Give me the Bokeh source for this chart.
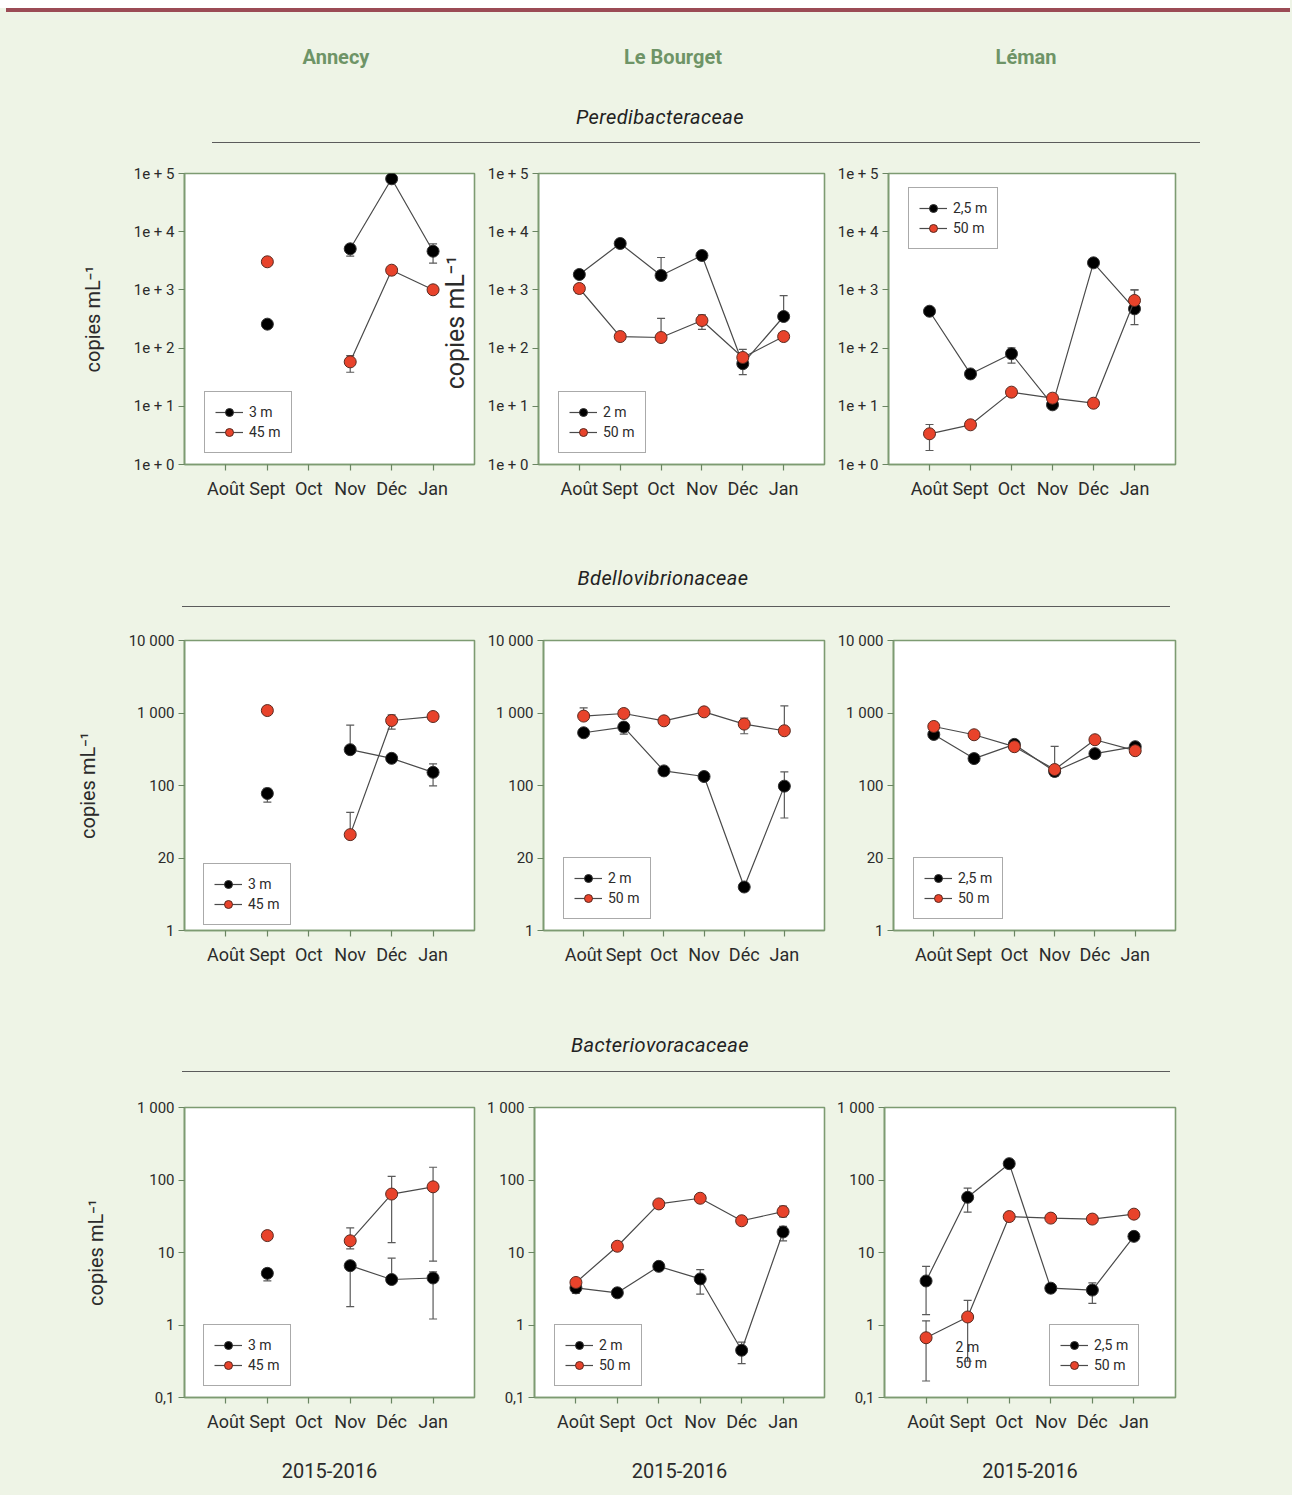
import math
from bokeh.plotting import figure
from bokeh.models import (ColumnDataSource, Whisker, TeeHead, FixedTicker, Legend,
                          LegendItem, Label, Div, Range1d)
from bokeh.layouts import column, row
from bokeh.embed import file_html
from bokeh.resources import INLINE

nan = float("nan")

# ---------------- data ----------------
MONTHS = ["Août", "Sept", "Oct", "Nov", "Déc", "Jan"]
LAKES = ["Annecy", "Le Bourget", "Léman"]
FAMILIES = ["Peredibacteraceae", "Bdellovibrionaceae", "Bacteriovoracaceae"]
DEPTH_SURF = ["3 m", "2 m", "2,5 m"]
DEPTH_DEEP = ["45 m", "50 m", "50 m"]
YEAR_LABEL = "2015-2016"
Y_LABEL = "copies mL⁻¹"

# Peredibacteraceae
pere_annecy_surf = [nan, 258, nan, 5080, 81100, 4620]
pere_annecy_surf_lo = [nan, 225, nan, 3790, nan, 2880]
pere_annecy_surf_hi = [nan, 290, nan, nan, nan, 6200]
pere_annecy_deep = [nan, 3040, nan, 58, 2180, 1004]
pere_annecy_deep_lo = [nan, 2700, nan, 38.5, nan, nan]
pere_annecy_deep_hi = [nan, 3400, nan, 74, nan, nan]

pere_bourget_surf = [1840, 6270, 1770, 3900, 54, 349]
pere_bourget_surf_lo = [nan, nan, nan, nan, 35, nan]
pere_bourget_surf_hi = [nan, nan, 3600, nan, nan, 800]
pere_bourget_deep = [1057, 158, 152, 298, 69, 158]
pere_bourget_deep_lo = [867, nan, nan, 209, nan, nan]
pere_bourget_deep_hi = [1230, nan, 323, 373, 95, nan]

pere_leman_surf = [430, 36, 80, 10.6, 2920, 473]
pere_leman_surf_lo = [nan, nan, 55, nan, nan, 254]
pere_leman_surf_hi = [nan, nan, 101, nan, nan, 1000]
pere_leman_deep = [3.37, 4.81, 17.5, 13.8, 11.3, 658]
pere_leman_deep_lo = [1.74, nan, nan, nan, 10.0, nan]
pere_leman_deep_hi = [4.87, nan, nan, nan, nan, 1000]

# Bdellovibrionaceae
bdel_annecy_surf = [nan, 77.6, nan, 312, 237, 152]
bdel_annecy_surf_lo = [nan, 59, nan, nan, nan, 99]
bdel_annecy_surf_hi = [nan, 91, nan, 681, nan, 199]
bdel_annecy_deep = [nan, 1081, nan, 21, 788, 894]
bdel_annecy_deep_lo = [nan, nan, nan, nan, 600, nan]
bdel_annecy_deep_hi = [nan, nan, nan, 42.6, 944, nan]

bdel_bourget_surf = [534, 640, 159, 133, 3.98, 98]
bdel_bourget_surf_lo = [nan, 512, nan, nan, nan, 35.6]
bdel_bourget_surf_hi = [nan, 740, nan, nan, nan, 154]
bdel_bourget_deep = [906, 984, 780, 1037, 703, 569]
bdel_bourget_deep_lo = [nan, nan, nan, nan, 517, nan]
bdel_bourget_deep_hi = [1177, nan, nan, nan, 850, 1253]

bdel_leman_surf = [506, 235, 369, 156, 275, 343]
bdel_leman_surf_lo = [450, nan, nan, 134, nan, nan]
bdel_leman_surf_hi = [nan, nan, nan, nan, nan, nan]
bdel_leman_deep = [652, 501, 343, 166, 428, 302]
bdel_leman_deep_lo = [nan, nan, 300, nan, nan, nan]
bdel_leman_deep_hi = [nan, nan, nan, 346, 486, nan]

# Bacteriovoracaceae
bact_annecy_surf = [nan, 5.16, nan, 6.58, 4.24, 4.45]
bact_annecy_surf_lo = [nan, 4.05, nan, 1.79, nan, 1.21]
bact_annecy_surf_hi = [nan, 6.0, nan, nan, 8.35, 5.4]
bact_annecy_deep = [nan, 17.1, nan, 14.5, 64, 80.5]
bact_annecy_deep_lo = [nan, nan, nan, 11.2, 13.7, 7.6]
bact_annecy_deep_hi = [nan, nan, nan, 21.8, 112, 150]

bact_bourget_surf = [3.25, 2.78, 6.44, 4.32, 0.448, 19.2]
bact_bourget_surf_lo = [2.72, 2.45, 5.7, 2.67, 0.294, 14.5]
bact_bourget_surf_hi = [3.73, nan, 7.2, 5.8, 0.58, 22.9]
bact_bourget_deep = [3.86, 12.2, 46.8, 56, 27.4, 36.7]
bact_bourget_deep_lo = [nan, nan, nan, nan, nan, 31]
bact_bourget_deep_hi = [nan, nan, nan, nan, nan, 43.7]

bact_leman_surf = [4.05, 57.7, 168, 3.22, 3.03, 16.7]
bact_leman_surf_lo = [1.39, 36, nan, nan, 1.99, nan]
bact_leman_surf_hi = [6.44, 77.4, nan, nan, 3.8, nan]
bact_leman_deep = [0.667, 1.29, 31.3, 29.8, 28.9, 33.8]
bact_leman_deep_lo = [0.169, 0.316, 27, 27, nan, nan]
bact_leman_deep_hi = [1.14, 2.19, 35.5, 33, nan, nan]

pere_ticks = [1, 10, 100, 1000, 10000, 100000]
pere_tick_labels = ["1e + 0", "1e + 1", "1e + 2", "1e + 3", "1e + 4", "1e + 5"]
bdel_ticks = [1, 10, 100, 1000, 10000]
bdel_tick_labels = ["1", "20", "100", "1 000", "10 000"]
bact_ticks = [0.1, 1, 10, 100, 1000]
bact_tick_labels = ["0,1", "1", "10", "100", "1 000"]

# ---------------- style ----------------
FONT = "Roboto"
BG = "#EEF4E6"
FRAME = "#7D9B72"
TICK = "#6A8562"
TXT = "#2b2b2b"
RED = "#E8432B"
LINE = "#4a4a4a"
ERR = "#5a5a5a"

COL_W = [484, 350, 456]
BORDER_L = [184, 50, 50]
BORDER_R = [10, 10, 115]
ROW_H = [374, 373, 403]
BORDER_B = [60, 60, 90]
BORDER_T = 23

rows_data = [
    dict(ticks=pere_ticks, labels=pere_tick_labels, yr=(1, 100000),
         panels=[(pere_annecy_surf, pere_annecy_surf_lo, pere_annecy_surf_hi,
                  pere_annecy_deep, pere_annecy_deep_lo, pere_annecy_deep_hi),
                 (pere_bourget_surf, pere_bourget_surf_lo, pere_bourget_surf_hi,
                  pere_bourget_deep, pere_bourget_deep_lo, pere_bourget_deep_hi),
                 (pere_leman_surf, pere_leman_surf_lo, pere_leman_surf_hi,
                  pere_leman_deep, pere_leman_deep_lo, pere_leman_deep_hi)],
         legend_loc=[(20, 11), (20, 11), (20, 215)]),
    dict(ticks=bdel_ticks, labels=bdel_tick_labels, yr=(1, 10000),
         panels=[(bdel_annecy_surf, bdel_annecy_surf_lo, bdel_annecy_surf_hi,
                  bdel_annecy_deep, bdel_annecy_deep_lo, bdel_annecy_deep_hi),
                 (bdel_bourget_surf, bdel_bourget_surf_lo, bdel_bourget_surf_hi,
                  bdel_bourget_deep, bdel_bourget_deep_lo, bdel_bourget_deep_hi),
                 (bdel_leman_surf, bdel_leman_surf_lo, bdel_leman_surf_hi,
                  bdel_leman_deep, bdel_leman_deep_lo, bdel_leman_deep_hi)],
         legend_loc=[(19, 5), (20, 11), (20, 11)]),
    dict(ticks=bact_ticks, labels=bact_tick_labels, yr=(0.1, 1000),
         panels=[(bact_annecy_surf, bact_annecy_surf_lo, bact_annecy_surf_hi,
                  bact_annecy_deep, bact_annecy_deep_lo, bact_annecy_deep_hi),
                 (bact_bourget_surf, bact_bourget_surf_lo, bact_bourget_surf_hi,
                  bact_bourget_deep, bact_bourget_deep_lo, bact_bourget_deep_hi),
                 (bact_leman_surf, bact_leman_surf_lo, bact_leman_surf_hi,
                  bact_leman_deep, bact_leman_deep_lo, bact_leman_deep_hi)],
         legend_loc=[(19, 11), (20, 11), (165, 11)]),
]


def add_errors(p, xs, vals, lo, hi):
    bx, bl, bu = [], [], []
    for x, v, l, h in zip(xs, vals, lo, hi):
        if math.isnan(v) or (math.isnan(l) and math.isnan(h)):
            continue
        bx.append(x)
        bl.append(v if math.isnan(l) else l)
        bu.append(v if math.isnan(h) else h)
    if not bx:
        return
    src = ColumnDataSource(dict(x=bx, lower=bl, upper=bu))
    w = Whisker(source=src, base="x", lower="lower", upper="upper",
                line_color=ERR, line_width=1.2,
                lower_head=TeeHead(size=8, line_color=ERR, line_width=1.2),
                upper_head=TeeHead(size=8, line_color=ERR, line_width=1.2))
    p.add_layout(w)


def make_panel(r, c):
    rd = rows_data[r]
    surf, surf_lo, surf_hi, deep, deep_lo, deep_hi = rd["panels"][c]
    xs = list(range(1, len(MONTHS) + 1))
    p = figure(width=COL_W[c], height=ROW_H[r], y_axis_type="log",
               x_range=Range1d(0, 7), y_range=Range1d(*rd["yr"]),
               output_backend="svg", toolbar_location=None,
               min_border_left=BORDER_L[c], min_border_right=BORDER_R[c],
               min_border_top=BORDER_T, min_border_bottom=BORDER_B[r])
    p.background_fill_color = "white"
    p.border_fill_color = BG
    p.outline_line_color = FRAME
    p.outline_line_width = 1.6
    p.xgrid.visible = False
    p.ygrid.visible = False

    for ax in (p.xaxis[0], p.yaxis[0]):
        ax.axis_line_color = FRAME
        ax.axis_line_width = 1.6
        ax.major_tick_line_color = TICK
        ax.major_tick_line_width = 1.2
        ax.major_tick_out = 6
        ax.major_tick_in = 0
        ax.minor_tick_line_color = None
        ax.major_label_text_font = FONT
        ax.major_label_text_color = TXT

    p.xaxis.ticker = FixedTicker(ticks=xs)
    p.xaxis.major_label_overrides = {x: m for x, m in zip(xs, MONTHS)}
    p.xaxis.major_label_text_font_size = "18px"
    p.xaxis.major_label_standoff = 7

    p.yaxis.ticker = FixedTicker(ticks=rd["ticks"])
    p.yaxis.major_label_overrides = {t: l for t, l in zip(rd["ticks"], rd["labels"])}
    p.yaxis.major_label_text_font_size = "15px"
    p.yaxis.major_label_standoff = 4

    if c == 0:
        p.yaxis.axis_label = Y_LABEL
        p.yaxis.axis_label_text_font = FONT
        p.yaxis.axis_label_text_font_size = "20px"
        p.yaxis.axis_label_text_font_style = "normal"
        p.yaxis.axis_label_text_color = TXT
        p.yaxis.axis_label_standoff = 26
    if r == 2:
        p.xaxis.axis_label = YEAR_LABEL
        p.xaxis.axis_label_text_font = FONT
        p.xaxis.axis_label_text_font_size = "20px"
        p.xaxis.axis_label_text_font_style = "normal"
        p.xaxis.axis_label_text_color = TXT
        p.xaxis.axis_label_standoff = 28

    add_errors(p, xs, surf, surf_lo, surf_hi)
    add_errors(p, xs, deep, deep_lo, deep_hi)

    l1 = p.line(xs, surf, line_color=LINE, line_width=1.2)
    s1 = p.scatter(xs, surf, size=12, fill_color="black", line_color="#333333", line_width=1)
    l2 = p.line(xs, deep, line_color=LINE, line_width=1.2)
    s2 = p.scatter(xs, deep, size=12, fill_color=RED, line_color="#5a2a20", line_width=1)

    leg = Legend(items=[LegendItem(label=DEPTH_SURF[c], renderers=[l1, s1]),
                        LegendItem(label=DEPTH_DEEP[c], renderers=[l2, s2])],
                 location=rd["legend_loc"][c])
    leg.border_line_color = "#555555"
    leg.border_line_width = 1
    leg.background_fill_color = "white"
    leg.background_fill_alpha = 1
    leg.padding = 10
    leg.margin = 0
    leg.spacing = 0
    leg.glyph_width = 28
    leg.glyph_height = 20
    leg.label_height = 20
    leg.label_standoff = 6
    leg.label_text_font = FONT
    leg.label_text_font_size = "14px"
    leg.label_text_color = TXT
    leg.label_text_baseline = "middle"
    p.add_layout(leg)

    # stray labels present in the source figure
    if r == 0 and c == 0:
        p.add_layout(Label(x=6.55, y=275, text=Y_LABEL, angle=math.pi / 2,
                           text_font=FONT, text_font_size="25px", text_color=TXT,
                           text_align="center", text_baseline="middle"))
    if r == 2 and c == 2:
        p.add_layout(Label(x=1.71, y=0.5, text=DEPTH_SURF[1], text_font=FONT,
                           text_font_size="14px", text_color=TXT,
                           text_align="left", text_baseline="middle"))
        p.add_layout(Label(x=1.71, y=0.295, text=DEPTH_DEEP[1], text_font=FONT,
                           text_font_size="14px", text_color=TXT,
                           text_align="left", text_baseline="middle"))
    return p


TOTAL_W = sum(COL_W)


def section_div(height, title, title_x, title_y, line_x0, line_x1, line_y, header=False):
    parts = [f'<div style="position:relative;width:{TOTAL_W}px;height:{height}px;'
             f'background:{BG};font-family:{FONT},sans-serif;overflow:hidden;">']
    if header:
        parts.append(f'<div style="position:absolute;left:0;top:0;width:{TOTAL_W}px;height:8px;'
                     'background:white;"></div>')
        parts.append(f'<div style="position:absolute;left:6px;top:8px;width:{TOTAL_W}px;height:4px;'
                     'background:#9B4B55;"></div>')
        for name, cx in zip(LAKES, [336, 673, 1026]):
            parts.append(f'<span style="position:absolute;left:{cx}px;top:57px;'
                         'transform:translate(-50%,-50%);color:#6E9467;font-weight:bold;'
                         f'font-size:20px;white-space:nowrap;">{name}</span>')
    parts.append(f'<span style="position:absolute;left:{title_x}px;top:{title_y}px;'
                 'transform:translate(-50%,-50%);color:#222;font-style:italic;'
                 f'font-size:20px;white-space:nowrap;letter-spacing:0.4px;">{title}</span>')
    parts.append(f'<div style="position:absolute;left:{line_x0}px;top:{line_y}px;'
                 f'width:{line_x1 - line_x0}px;height:0;border-top:1.5px solid #5b5b5b;"></div>')
    parts.append('</div>')
    return Div(text="".join(parts), width=TOTAL_W, height=height, margin=0,
               styles={"background-color": BG})


items = []
items.append(section_div(150, FAMILIES[0], 660, 117, 212, 1200, 142, header=True))
items.append(row([make_panel(0, c) for c in range(3)], spacing=0))
items.append(section_div(93, FAMILIES[1], 663, 54, 182, 1170, 82))
items.append(row([make_panel(1, c) for c in range(3)], spacing=0))
items.append(section_div(94, FAMILIES[2], 660, 55, 182, 1170, 81))
items.append(row([make_panel(2, c) for c in range(3)], spacing=0))

layout = column(items, spacing=0)

html = file_html(layout, INLINE, title="Prédateurs bactériens")
html = html.replace("<head>", "<head><style>html,body{background:%s;margin:0;}</style>" % BG, 1)
open("out.html", "w").write(html)
